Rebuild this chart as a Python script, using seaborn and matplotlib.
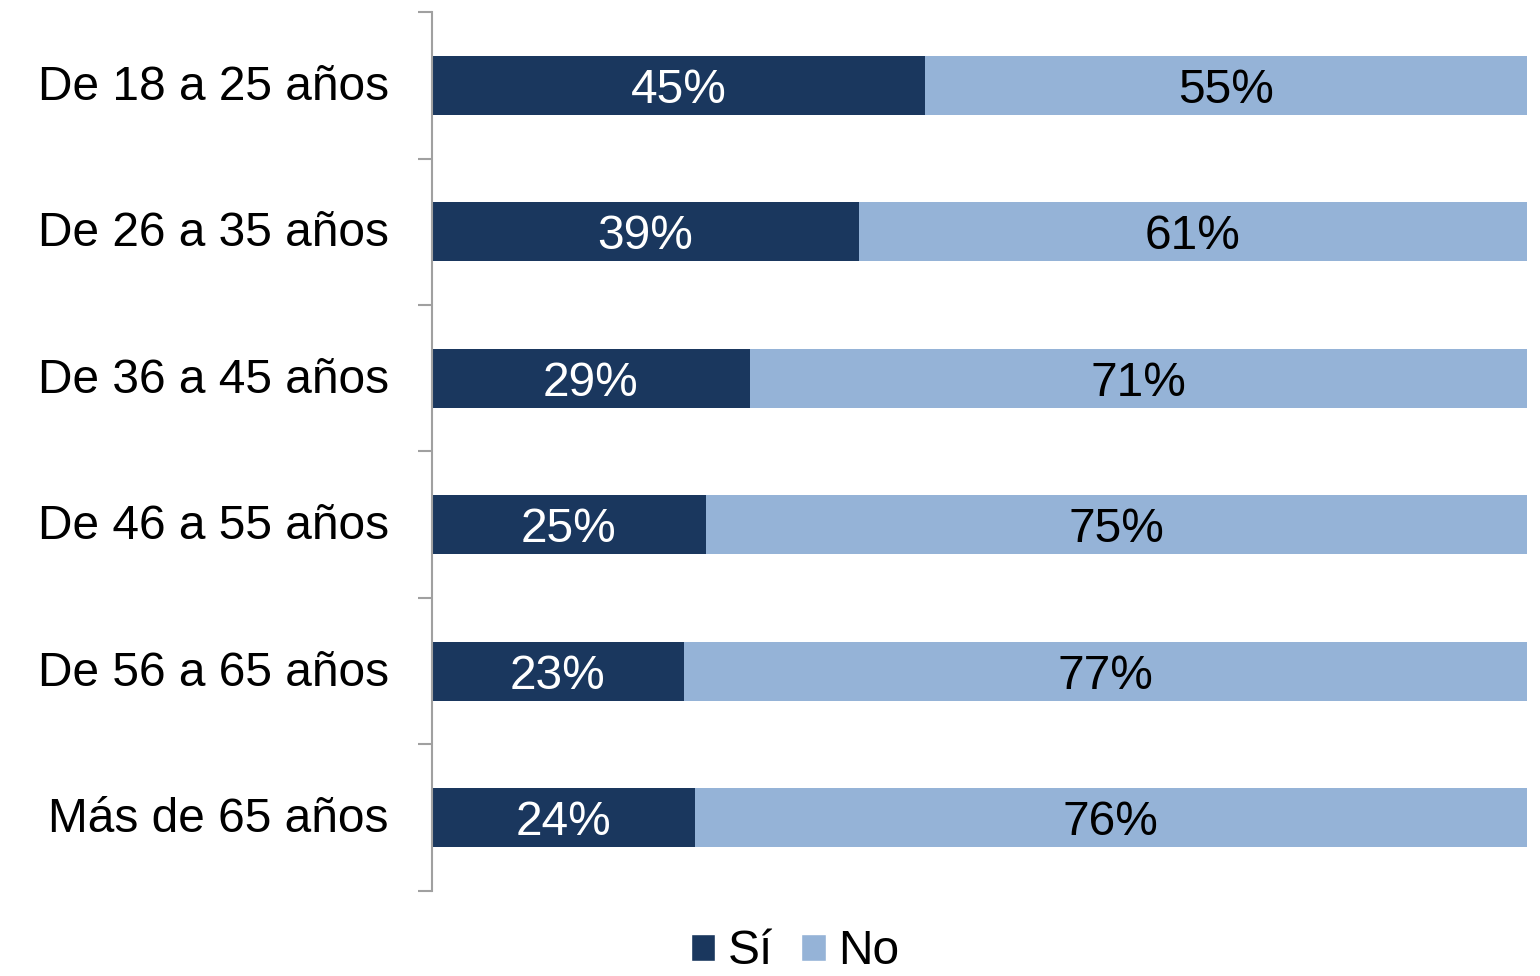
import numpy as np
import pandas as pd
import matplotlib
matplotlib.use("Agg")
import matplotlib.pyplot as plt
import matplotlib.transforms as mtransforms
import seaborn as sns
from matplotlib.patches import Patch

# Data
categories = ["De 18 a 25 años", "De 26 a 35 años", "De 36 a 45 años",
              "De 46 a 55 años", "De 56 a 65 años", "Más de 65 años"]
si_values = [45, 39, 29, 25, 23, 24]
no_values = [55, 61, 71, 75, 77, 76]

dark = "#1A375E"
light = "#95B3D7"

sns.set_style("white")
plt.rcParams["font.family"] = ["Liberation Sans", "DejaVu Sans"]
plt.rcParams["text.color"] = "black"
plt.rcParams["ytick.labelcolor"] = "black"

df = pd.DataFrame({"grupo": categories, "si": si_values, "no": no_values})
df["total"] = df["si"] + df["no"]

fig = plt.figure(figsize=(15.4, 9.76), dpi=100)
ax = fig.add_axes([0.2805, 0.0871, 0.7111, 0.9006])

# stacked bars: total (No) behind, Sí in front
sns.barplot(data=df, y="grupo", x="total", color=light, orient="h",
            width=0.4, saturation=1, linewidth=0, ax=ax)
sns.barplot(data=df, y="grupo", x="si", color=dark, orient="h",
            width=0.4, saturation=1, linewidth=0, ax=ax)

# value labels
for i, (s, n) in enumerate(zip(si_values, no_values)):
    ax.text(s / 2, i, f"{s}%", color="white", ha="center", va="center_baseline", fontsize=34.5)
    ax.text(s + n / 2, i, f"{n}%", color="black", ha="center", va="center_baseline", fontsize=34.5)

ax.set_xlim(0, 100)
ax.set_ylim(len(categories) - 0.5, -0.5)
ax.set_xlabel("")
ax.set_ylabel("")
ax.set_xticks([])

# labels at bar centers, tick marks at category boundaries
ax.set_yticks(range(len(categories)))
ax.set_yticklabels(categories, fontsize=34.5, va="center_baseline")
ax.tick_params(axis="y", which="major", length=0, pad=31)
shift = mtransforms.ScaledTranslation(0, 3 / 100, fig.dpi_scale_trans)
for lbl in ax.get_yticklabels():
    lbl.set_transform(lbl.get_transform() + shift)
ax.set_yticks(np.arange(-0.5, len(categories), 1.0), minor=True)
ax.tick_params(axis="y", which="minor", length=10, width=1.5, color="#A0A0A0", left=True)

for side in ["top", "right", "bottom"]:
    ax.spines[side].set_visible(False)
ax.spines["left"].set_color("#A0A0A0")
ax.spines["left"].set_linewidth(1.5)

handles = [Patch(facecolor=dark, label="Sí"), Patch(facecolor=light, label="No")]
fig.legend(handles=handles, loc="center", bbox_to_anchor=(795 / 1540, 1 - 952 / 976),
           ncol=2, frameon=False, fontsize=34.5, handlelength=0.52, handleheight=0.52,
           handletextpad=0.25, columnspacing=0.6, labelcolor="black", borderpad=0.1)

fig.savefig("out.png", dpi=100)
